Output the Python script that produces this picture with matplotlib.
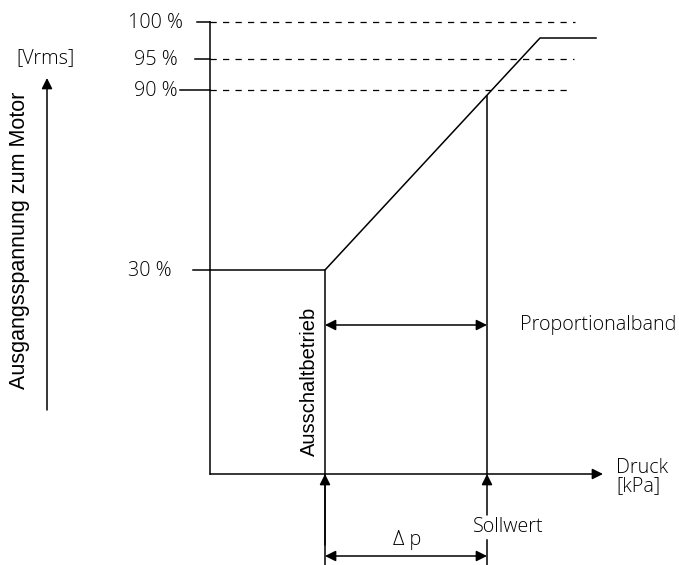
import matplotlib.pyplot as plt

# Schematic coordinates (drawing units, y grows downwards)
level_labels = ['100 %', '95 %', '90 %', '30 %']
level_y = [22, 59, 90, 270]
label_right = [183, 178, 178, 172]
tick_x0 = [197, 195, 180, 193]
dash_end = [575, 574, 572, None]

x_origin, y_origin = 210, 474
x_off = 325          # Ausschaltbetrieb
x_set = 487          # Sollwert
ramp_x = [210, 325, 540, 596]
ramp_y = [270, 270, 38, 38]

line_font = ['Open Sans', 'DejaVu Sans']
arial = ['Liberation Sans', 'DejaVu Sans']
fs = 14.2
txt = dict(fontsize=fs, family=line_font, fontweight='light')

fig = plt.figure(figsize=(6.79, 5.65), dpi=100)
ax = fig.add_axes([0, 0, 1, 1])
ax.set_xlim(0, 679)
ax.set_ylim(565, 0)
ax.axis('off')

lw = 1.1
k = 'black'
arr = dict(color=k, lw=lw, mutation_scale=16, shrinkA=0, shrinkB=0)

# axes
ax.plot([x_origin, x_origin], [level_y[0], y_origin], color=k, lw=lw)
ax.annotate('', xy=(603, y_origin), xytext=(x_origin, y_origin),
            arrowprops=dict(arrowstyle='-|>', **arr))

# level ticks, labels, dashed lines
for lab, y, xr, x0, xe in zip(level_labels, level_y, label_right, tick_x0, dash_end):
    ax.plot([x0, x_origin], [y, y], color=k, lw=lw)
    ax.text(xr, y + 1, lab, ha='right', va='center', **txt)
    if xe is not None:
        ax.plot([x_origin, xe], [y, y], color=k, lw=0.9, ls=(0, (5, 5)))

# characteristic curve
ax.plot(ramp_x, ramp_y, color=k, lw=lw)
ax.plot([x_off, x_off], [ramp_y[1], 565], color=k, lw=lw)
ax.plot([x_set, x_set], [96, y_origin], color=k, lw=lw)

# proportional band
ax.annotate('', xy=(x_off, 325), xytext=(x_set, 325),
            arrowprops=dict(arrowstyle='<|-|>', **arr))
ax.text(520, 325, 'Proportionalband', ha='left', va='center', **txt)

ax.text(309, 381, 'Ausschaltbetrieb', rotation=90, ha='center', va='center',
        fontsize=14.5, family=arial)

# arrows from below
ax.annotate('', xy=(x_off, y_origin), xytext=(x_off, 545),
            arrowprops=dict(arrowstyle='-|>', **arr))
ax.annotate('', xy=(x_set, y_origin), xytext=(x_set, 515),
            arrowprops=dict(arrowstyle='-|>', **arr))
ax.plot([x_set, x_set], [540, 565], color=k, lw=lw)
ax.text(508, 527, 'Sollwert', ha='center', va='center', **txt)

# delta p
ax.annotate('', xy=(x_off, 556), xytext=(x_set, 556),
            arrowprops=dict(arrowstyle='<|-|>', **arr))
ax.text(407, 540, 'Δ p', ha='center', va='center', **txt)

# x axis label
ax.text(616, 477, 'Druck\n[kPa]', ha='left', va='center', linespacing=0.9, **txt)

# y axis label
ax.text(20, 240, 'Ausgangsspannung zum Motor', rotation=90, ha='center', va='center',
        fontsize=15.5, family=arial)
ax.annotate('', xy=(47, 78), xytext=(47, 410),
            arrowprops=dict(arrowstyle='-|>', **arr))
ax.text(46, 58, '[Vrms]', ha='center', va='center', **txt)

fig.savefig('out.png', dpi=100)
